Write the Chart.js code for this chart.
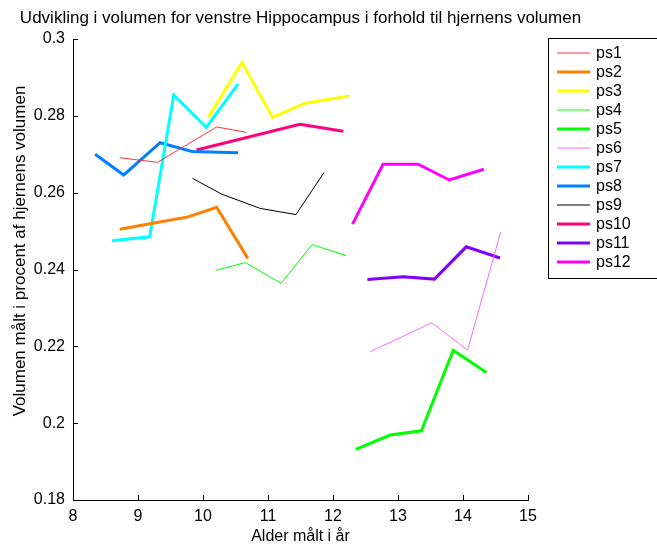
<!DOCTYPE html>
<html>
<head>
<meta charset="utf-8">
<script src="https://cdn.jsdelivr.net/npm/chart.js@4"></script>
<style>
  html, body { margin: 0; padding: 0; background: #fff; }
  #wrap { width: 657px; height: 546px; }
</style>
</head>
<body>
<div id="wrap"><canvas id="hippoChart" width="657" height="546"></canvas></div>
<script>
// alder (år) og volumen (% af hjernens volumen) for hver deltager
const labels = ['ps1', 'ps2', 'ps3', 'ps4', 'ps5', 'ps6', 'ps7', 'ps8', 'ps9', 'ps10', 'ps11', 'ps12'];

const ps1Age = [8.72, 9.30, 10.21, 10.67];
const ps1Vol = [0.2691, 0.2679, 0.2771, 0.2757];
const ps2Age = [8.72, 9.25, 9.77, 10.21, 10.69];
const ps2Vol = [0.2505, 0.2521, 0.2537, 0.2562, 0.2429];
const ps3Age = [10.08, 10.60, 11.07, 11.57, 12.26];
const ps3Vol = [0.2796, 0.2939, 0.2796, 0.2833, 0.2852];
const ps4Age = [10.20, 10.65, 11.20, 11.68, 12.20];
const ps4Vol = [0.2398, 0.2418, 0.2364, 0.2465, 0.2436];
const ps5Age = [12.35, 12.88, 13.36, 13.85, 14.36];
const ps5Vol = [0.1932, 0.1969, 0.1980, 0.2190, 0.2132];
const ps6Age = [12.57, 13.52, 14.07, 14.58];
const ps6Vol = [0.2186, 0.2261, 0.2190, 0.2498];
const ps7Age = [8.60, 9.18, 9.55, 10.05, 10.54];
const ps7Vol = [0.2475, 0.2485, 0.2854, 0.2770, 0.2883];
const ps8Age = [8.34, 8.78, 9.34, 9.83, 10.54];
const ps8Vol = [0.2700, 0.2646, 0.2730, 0.2707, 0.2704];
const ps9Age = [9.84, 10.29, 10.88, 11.43, 11.86];
const ps9Vol = [0.2637, 0.2596, 0.2559, 0.2543, 0.2652];
const ps10Age = [9.90, 11.49, 12.16];
const ps10Vol = [0.2711, 0.2778, 0.2760];
const ps11Age = [12.53, 13.08, 13.56, 14.05, 14.57];
const ps11Vol = [0.2374, 0.2381, 0.2375, 0.2459, 0.2430];
const ps12Age = [12.30, 12.77, 13.31, 13.79, 14.32];
const ps12Vol = [0.2518, 0.2674, 0.2674, 0.2633, 0.2661];

const xTicks = [8, 9, 10, 11, 12, 13, 14, 15];
const yTicks = [0.18, 0.2, 0.22, 0.24, 0.26, 0.28, 0.3];

const ages = [ps1Age, ps2Age, ps3Age, ps4Age, ps5Age, ps6Age, ps7Age, ps8Age, ps9Age, ps10Age, ps11Age, ps12Age];
const vols = [ps1Vol, ps2Vol, ps3Vol, ps4Vol, ps5Vol, ps6Vol, ps7Vol, ps8Vol, ps9Vol, ps10Vol, ps11Vol, ps12Vol];

// stil
const colors = ['#ff3333', '#ff7f00', '#ffff00', '#00ff00', '#00ff00', '#ff66ff',
                '#00ffff', '#0080ff', '#000000', '#ff0080', '#8000ff', '#ff00ff'];
const widths = [1, 3, 3, 1, 3, 1, 3, 3, 1, 3, 3, 3];
const FONT = '"Liberation Sans", Arial, sans-serif';

const datasets = labels.map(function (lab, i) {
    return {
        label: lab,
        data: ages[i].map(function (a, j) { return { x: a, y: vols[i][j] }; }),
        borderColor: colors[i],
        backgroundColor: colors[i],
        borderWidth: widths[i],
        showLine: true,
        pointRadius: 0,
        tension: 0
    };
});

// inderste tick-streger, titler og forklaring
const decorations = {
    id: 'decorations',
    afterDraw: function (chart) {
        const ctx = chart.ctx;
        const xs = chart.scales.x, ys = chart.scales.y;
        const a = chart.chartArea;
        ctx.save();
        ctx.strokeStyle = '#000';
        ctx.lineWidth = 1;
        ctx.beginPath();
        xTicks.forEach(function (t) {
            const px = Math.round(xs.getPixelForValue(t)) + 0.5;
            ctx.moveTo(px, a.bottom);
            ctx.lineTo(px, a.bottom - 5);
        });
        yTicks.forEach(function (t) {
            const py = Math.round(ys.getPixelForValue(t)) + 0.5;
            ctx.moveTo(a.left, py);
            ctx.lineTo(a.left + 5, py);
        });
        ctx.stroke();

        ctx.fillStyle = '#000';
        ctx.textAlign = 'center';
        ctx.textBaseline = 'middle';
        ctx.font = '17px ' + FONT;
        ctx.fillText('Udvikling i volumen for venstre Hippocampus i forhold til hjernens volumen', (a.left + a.right) / 2, 18);
        ctx.font = '16px ' + FONT;
        ctx.fillText('Alder målt i år', (a.left + a.right) / 2, 537);
        ctx.save();
        ctx.translate(20, 251);
        ctx.rotate(-Math.PI / 2);
        ctx.font = '17px ' + FONT;
        ctx.fillText('Volumen målt i procent af hjernens volumen', 0, 0);
        ctx.restore();

        // forklaring
        ctx.strokeStyle = '#000';
        ctx.lineWidth = 1;
        ctx.strokeRect(548.5, 38.5, 130, 240);
        ctx.textAlign = 'left';
        ctx.font = '16px ' + FONT;
        chart.data.datasets.forEach(function (ds, i) {
            const y = 53 + i * 19;
            ctx.beginPath();
            ctx.strokeStyle = ds.borderColor;
            ctx.lineWidth = ds.borderWidth;
            ctx.moveTo(557, y);
            ctx.lineTo(590, y);
            ctx.stroke();
            ctx.fillStyle = '#000';
            ctx.fillText(ds.label, 596, y + 1);
        });
        ctx.restore();
    }
};

new Chart(document.getElementById('hippoChart').getContext('2d'), {
    type: 'scatter',
    data: { datasets: datasets },
    plugins: [decorations],
    options: {
        responsive: false,
        animation: false,
        layout: { padding: { top: 39, right: 129, left: 0, bottom: 0 } },
        plugins: { legend: { display: false }, tooltip: { enabled: false } },
        scales: {
            x: {
                type: 'linear',
                min: 8, max: 15,
                afterFit: function (s) { s.height = 46; },
                grid: { display: false, drawTicks: false },
                border: { display: true, color: '#000', width: 1 },
                ticks: { stepSize: 1, padding: 7, color: '#000', font: { family: FONT, size: 16 } }
            },
            y: {
                type: 'linear',
                min: 0.18, max: 0.3,
                afterFit: function (s) { s.width = 73; },
                grid: { display: false, drawTicks: false },
                border: { display: true, color: '#000', width: 1 },
                ticks: {
                    stepSize: 0.02, padding: 8, color: '#000',
                    font: { family: FONT, size: 16 },
                    callback: function (v) { return String(+v.toFixed(2)); }
                }
            }
        }
    }
});
</script>
</body>
</html>
